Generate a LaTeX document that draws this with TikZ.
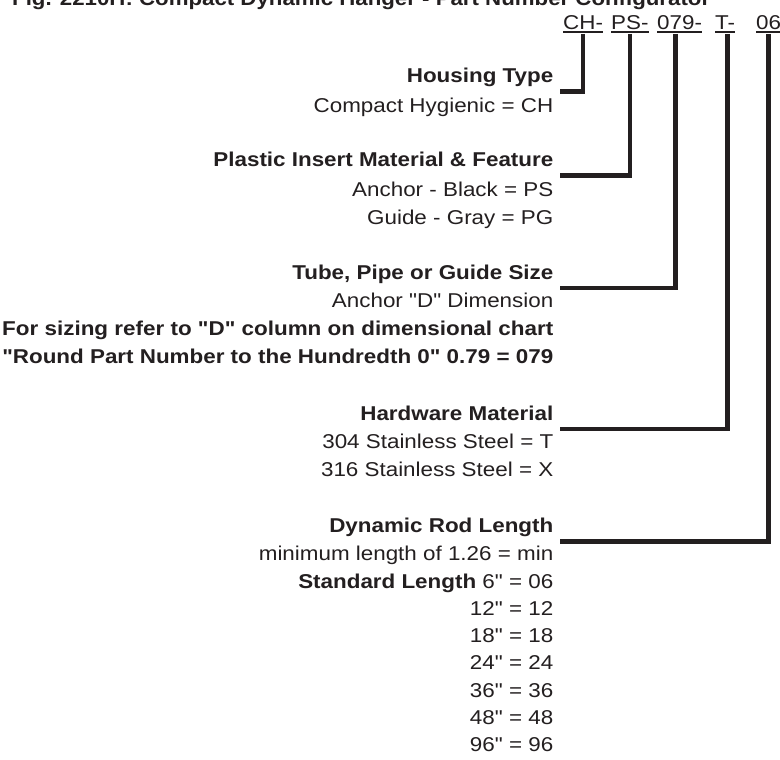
\documentclass[tikz,border=0pt]{standalone}
\usepackage{fontspec}
\setmainfont{Liberation Sans}[Ligatures=TeXOff]
\usepackage{graphicx}
\definecolor{ink}{HTML}{231F20}
\newcommand{\wx}[1]{\scalebox{1.12}[1]{#1}}
\newcommand{\fitw}[2]{\resizebox{#1pt}{\height}{#2}}
\begin{document}
\begin{tikzpicture}[x=1pt,y=-1pt,
  txt/.style={anchor=base east, inner sep=0pt, text=ink, font=\fontsize{20}{23}\selectfont},
  hd/.style={txt, font=\fontsize{20}{23}\selectfont\bfseries},
  pn/.style={anchor=base west, inner sep=0pt, text=ink, font=\fontsize{20}{23}\selectfont},
  conn/.style={draw=ink, line width=4.6pt},
  uline/.style={draw=ink, line width=1.5pt}]
\useasboundingbox (0,0) rectangle (780,760);
\fill[white] (0,0) rectangle (780,760);

% title (cut off at the top)
\node[hd, anchor=base west] (title) at (12,6) {\fitw{698}{Fig. 2210H: Compact Dynamic Hanger - Part Number Configurator}};

% part number segments
\node[pn] (pn1) at (563,30) {\wx{CH-}};
\node[pn] (pn2) at (611,30) {\wx{PS-}};
\node[pn] (pn3) at (657,30) {\wx{079-}};
\node[pn] (pn4) at (715,30) {\wx{T-}};
\node[pn] (pn5) at (756,30) {\wx{06}};
\foreach \n in {pn1,pn2,pn3,pn4,pn5}
  \draw[uline] ([yshift=-2.2pt]\n.base west) -- ([yshift=-2.2pt]\n.base east);

% headings and descriptions
\def\xr{553.5}
\node[hd]  (h1)  at (\xr,83)  {\wx{Housing Type}};
\node[txt] (d11) at (\xr,113) {\wx{Compact Hygienic = CH}};

\node[hd]  (h2)  at (\xr,166) {\wx{Plastic Insert Material \& Feature}};
\node[txt] (d21) at (\xr,196) {\wx{Anchor - Black = PS}};
\node[txt] (d22) at (\xr,224) {\wx{Guide - Gray = PG}};

\node[hd]  (h3)  at (\xr,279) {\wx{Tube, Pipe or Guide Size}};
\node[txt] (d31) at (\xr,307) {\wx{Anchor "D" Dimension}};
\node[hd]  (d32) at (\xr,335) {\fitw{551}{For sizing refer to "D" column on dimensional chart}};
\node[hd]  (d33) at (\xr,363) {\fitw{551}{"Round Part Number to the Hundredth 0" 0.79 = 079}};

\node[hd]  (h4)  at (\xr,420) {\wx{Hardware Material}};
\node[txt] (d41) at (\xr,448) {\wx{304 Stainless Steel = T}};
\node[txt] (d42) at (\xr,476) {\wx{316 Stainless Steel = X}};

\node[hd]  (h5)  at (\xr,532) {\wx{Dynamic Rod Length}};
\node[txt] (d51) at (\xr,560) {\wx{minimum length of 1.26 = min}};
\node[txt] (d52) at (\xr,588) {\wx{\textbf{Standard Length} 6" = 06}};
\node[txt] (d53) at (\xr,615) {\wx{12" = 12}};
\node[txt] (d54) at (\xr,642) {\wx{18" = 18}};
\node[txt] (d55) at (\xr,669) {\wx{24" = 24}};
\node[txt] (d56) at (\xr,697) {\wx{36" = 36}};
\node[txt] (d57) at (\xr,724) {\wx{48" = 48}};
\node[txt] (d58) at (\xr,751) {\wx{96" = 96}};

% connectors
\draw[conn] ([yshift=-4pt]pn1.base) |- ([xshift=6pt,yshift=-8.5pt]h1.base east);
\draw[conn] ([yshift=-4pt]pn2.base) |- ([xshift=6pt,yshift=-9.5pt]h2.base east);
\draw[conn] ([xshift=-4pt,yshift=-4pt]pn3.base) |- ([xshift=6pt,yshift=-9pt]h3.base east);
\draw[conn] ([xshift=2.4pt,yshift=-4pt]pn4.base) |- ([xshift=6pt,yshift=-9pt]h4.base east);
\draw[conn] ([yshift=-4pt]pn5.base) |- ([xshift=6pt,yshift=-9.5pt]h5.base east);
\end{tikzpicture}
\end{document}
